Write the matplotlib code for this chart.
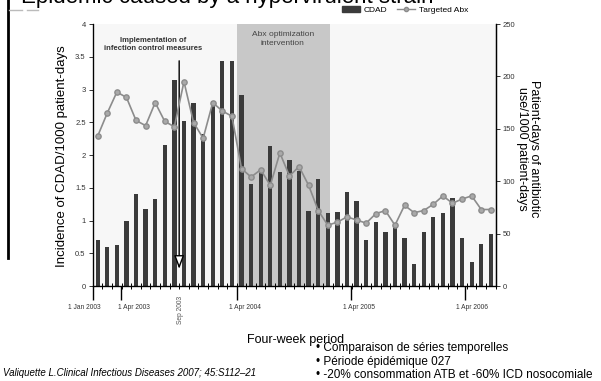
import matplotlib.pyplot as plt
from matplotlib.lines import Line2D
from matplotlib.patches import Patch

# CDAD incidence per four-week period (left axis)
cdad = [0.70, 0.59, 0.62, 1.00, 1.41, 1.17, 1.33, 2.15, 3.15, 2.52, 2.79, 2.32,
        2.82, 3.43, 3.44, 2.91, 1.56, 1.75, 2.14, 1.74, 1.93, 1.75, 1.15, 1.64,
        1.12, 1.13, 1.43, 1.30, 0.71, 0.98, 0.83, 0.96, 0.73, 0.34, 0.82, 1.06,
        1.11, 1.34, 0.74, 0.37, 0.64, 0.79]
# targeted antibiotic use (right axis)
abx = [143, 165, 185, 180, 158, 153, 175, 157, 152, 195, 156, 141, 175, 167,
       162, 112, 104, 111, 96, 127, 105, 114, 96, 72, 58, 61, 66, 63, 60, 69,
       72, 58, 77, 70, 72, 78, 86, 79, 83, 86, 73, 73]
periodes = list(range(len(cdad)))

dato_pos = [-0.5, 2.47, 14.53, 26.4, 38.26]
dato_tekst = ["1 Jan 2003", "1 Apr 2003", "1 Apr 2004", "1 Apr 2005", "1 Apr 2006"]
tekst_pos = [-1.35, 3.75, 15.35, 27.2, 39.0]
sep_pos = 8.5
abx_start, abx_slutt = 14.5, 24.2

plt.rcParams['font.family'] = ['Liberation Sans', 'DejaVu Sans']

fig = plt.figure(figsize=(6.01, 3.81), dpi=100)
ax = fig.add_axes([0.1542, 0.2493, 0.6705, 0.6877])
ax.set_facecolor('#f7f7f7')

ax.axvspan(abx_start, abx_slutt, color='#c8c8c8', zorder=0, lw=0)
ax.bar(periodes, cdad, width=0.45, color='#3b3b3b', zorder=2)

ax.set_xlim(-0.52, 41.46)
ax.set_ylim(0, 4)
ax.set_yticks([0, 0.5, 1, 1.5, 2, 2.5, 3, 3.5, 4])
ax.set_yticklabels(["0", "0.5", "1", "1.5", "2", "2.5", "3", "3.5", "4"])
ax.tick_params(axis='y', labelsize=5.5, length=3, width=0.7, colors='#333333', pad=2)

# x-aksen: små streker mellom periodene, lange streker ved datoene
ax.set_xticks(dato_pos)
ax.set_xticklabels([])
ax.tick_params(axis='x', which='major', length=10, width=1, direction='out')
ax.set_xticks([i - 0.5 for i in range(len(cdad) + 1)], minor=True)
ax.tick_params(axis='x', which='minor', length=4, width=0.7, direction='inout')
for pos, txt in zip(tekst_pos, dato_tekst):
    ax.text(pos, -0.33, txt, ha='center', va='center', fontsize=4.8, color='#333333')
ax.text(sep_pos + 0.15, -0.37, "Sep 2003", rotation=90, ha='center', va='center',
        fontsize=4.8, color='#555555')

ax.spines['top'].set_visible(False)
for s in ['left', 'bottom', 'right']:
    ax.spines[s].set_linewidth(0.9)

# pil for smittevern-tiltak
ax.annotate("", xy=(sep_pos, 0.22), xytext=(sep_pos, 3.48),
            arrowprops=dict(arrowstyle='-|>,head_length=0.8,head_width=0.3',
                            fc='white', ec='black', lw=1), zorder=3)
ax.text(5.8, 3.69, "Implementation of\ninfection control measures", ha='center',
        va='center', fontsize=5.5, fontweight='bold', color='#333333', linespacing=1.3)
ax.text(19.3, 3.77, "Abx optimization\nintervention", ha='center', va='center',
        fontsize=6, color='#444444', linespacing=1.3)

ax2 = ax.twinx()
ax2.plot(periodes, abx, color='#8c8c8c', lw=1.2, marker='o', markersize=3.8,
         markerfacecolor='#a9a9a9', markeredgecolor='#8c8c8c', zorder=4)
ax2.set_ylim(0, 250)
ax2.set_yticks([0, 50, 100, 150, 200, 250])
ax2.tick_params(axis='y', labelsize=5.5, length=3, width=0.7, colors='#333333', pad=2)
ax2.spines['top'].set_visible(False)
ax2.spines['right'].set_linewidth(0.9)

fig.text(0.103, 0.59, "Incidence of CDAD/1000 patient-days", rotation=90,
         ha='center', va='center', fontsize=9.5)
fig.text(0.879, 0.61, "Patient-days of antibiotic\nuse/1000 patient-days", rotation=270,
         ha='center', va='center', fontsize=9, linespacing=1.0)

# avskåret tittel og pynt øverst
fig.text(0.035, 1 - 3 / 381, "Epidemic caused by a hypervirulent strain", fontsize=16,
         va='baseline', ha='left', color='black')
fig.add_artist(Line2D([8 / 601, 8 / 601], [1, 1 - 258 / 381], color='black', lw=2))
fig.add_artist(Line2D([9 / 601, 22 / 601], [1 - 10 / 381] * 2, color='#bbbbbb', lw=1))
fig.add_artist(Line2D([27 / 601, 38 / 601], [1 - 10 / 381] * 2, color='#bbbbbb', lw=1))

handles = [Patch(color='#3b3b3b'),
           Line2D([], [], color='#8c8c8c', marker='o', markersize=3, lw=1,
                  markerfacecolor='#a9a9a9')]
leg = fig.legend(handles, ["CDAD", "Targeted Abx"], loc='center', ncol=2,
                 bbox_to_anchor=(405 / 601, 1 - 10 / 381), frameon=False, fontsize=6,
                 handlelength=2.2, handleheight=0.8, columnspacing=1.2, handletextpad=0.4)
leg.set_zorder(5)

fig.text(296 / 601, 1 - 340 / 381, "Four-week period", ha='center', va='center', fontsize=9)
fig.text(316 / 601, 1 - 348 / 381, "• Comparaison de séries temporelles", ha='left',
         va='center', fontsize=8.5)
fig.text(316 / 601, 1 - 362 / 381, "• Période épidémique 027", ha='left', va='center',
         fontsize=8.5)
fig.text(316 / 601, 1 - 375 / 381, "• -20% consommation ATB et -60% ICD nosocomiale",
         ha='left', va='center', fontsize=8.5)
fig.text(3 / 601, 1 - 373 / 381, "Valiquette L.Clinical Infectious Diseases 2007; 45:S112–21",
         ha='left', va='center', fontsize=7, style='italic')

fig.savefig("out.png", dpi=100)
